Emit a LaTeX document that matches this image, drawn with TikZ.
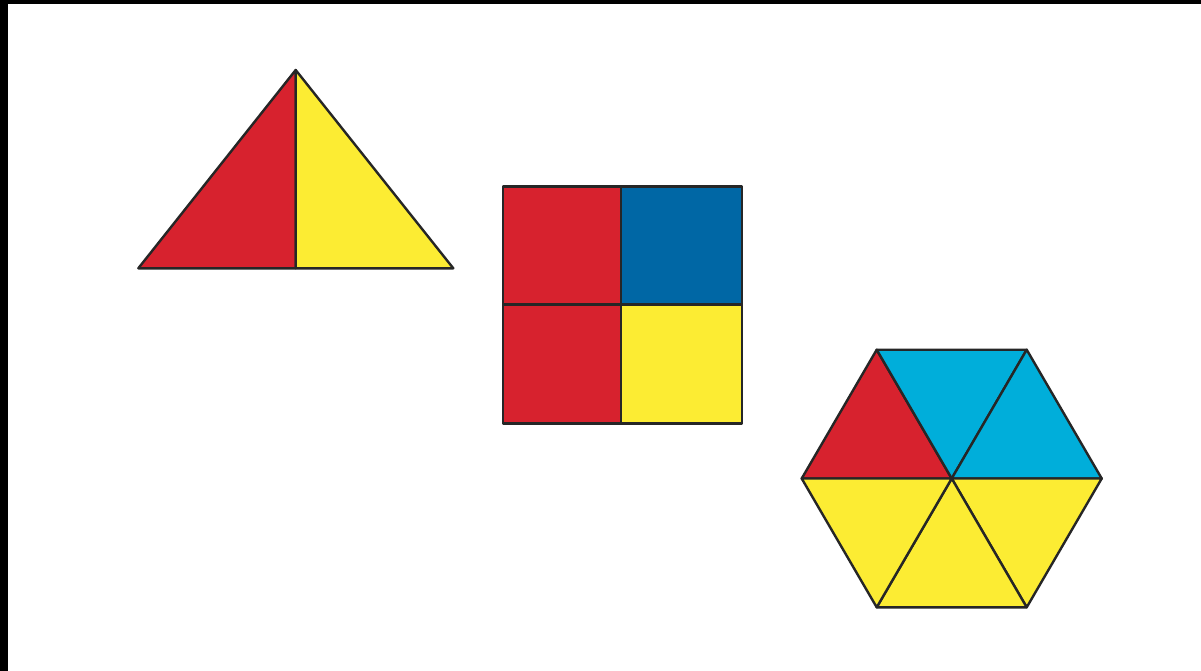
\documentclass[tikz,border=0pt]{standalone}
\definecolor{pred}{HTML}{D7222E}
\definecolor{pyellow}{HTML}{FCEC33}
\definecolor{pblue}{HTML}{0067A5}
\definecolor{pcyan}{HTML}{00AEDA}
\tikzset{piece/.style={draw=black!85, line width=2.4pt, line join=round}}
\begin{document}
\begin{tikzpicture}[x=1pt,y=-1pt]
\useasboundingbox (0,0) rectangle (1201,671);
\fill[white] (0,0) rectangle (1201,671);
\fill[black] (0,0) rectangle (1201,4);
\fill[black] (0,0) rectangle (8,671);
% triangle
\coordinate (ta) at (295.7,70);
\coordinate (tl) at (138.3,268.3);
\coordinate (tr) at (453.3,268.3);
\coordinate (tm) at (295.7,268.3);
\filldraw[piece, fill=pred] (ta) -- (tl) -- (tm) -- cycle;
\filldraw[piece, fill=pyellow] (ta) -- (tm) -- (tr) -- cycle;
% square
\filldraw[piece, fill=pred] (502.7,186.7) rectangle (621,304.3);
\filldraw[piece, fill=pblue] (621,186.7) rectangle (741.7,304.3);
\filldraw[piece, fill=pred] (502.7,304.3) rectangle (621,423.3);
\filldraw[piece, fill=pyellow] (621,304.3) rectangle (741.7,423.3);
% hexagon
\coordinate (hc) at (951.7,478.5);
\coordinate (hR) at (1101.7,478.5);
\coordinate (hTR) at (1026.7,349.7);
\coordinate (hTL) at (876.7,349.7);
\coordinate (hL) at (801.7,478.5);
\coordinate (hBL) at (876.7,607.3);
\coordinate (hBR) at (1026.7,607.3);
\filldraw[piece, fill=pred] (hc) -- (hTL) -- (hL) -- cycle;
\filldraw[piece, fill=pcyan] (hc) -- (hTL) -- (hTR) -- cycle;
\filldraw[piece, fill=pcyan] (hc) -- (hTR) -- (hR) -- cycle;
\filldraw[piece, fill=pyellow] (hc) -- (hR) -- (hBR) -- cycle;
\filldraw[piece, fill=pyellow] (hc) -- (hBR) -- (hBL) -- cycle;
\filldraw[piece, fill=pyellow] (hc) -- (hBL) -- (hL) -- cycle;
\end{tikzpicture}
\end{document}
